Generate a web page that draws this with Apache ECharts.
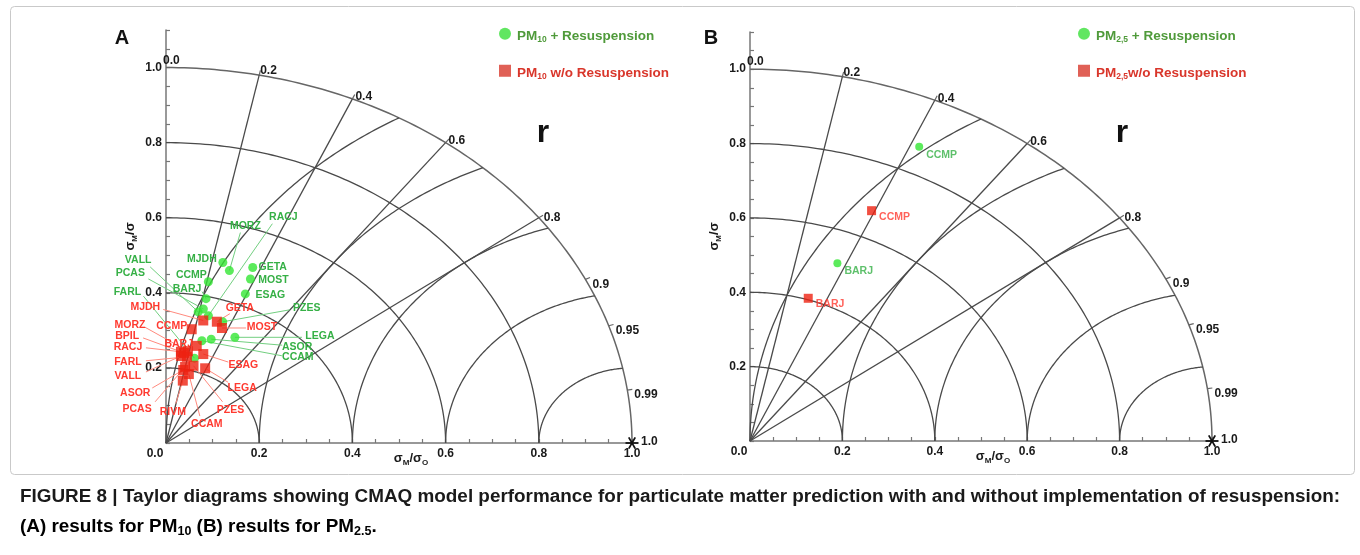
<!DOCTYPE html>
<html><head><meta charset="utf-8">
<script src="https://cdn.jsdelivr.net/npm/echarts@6/dist/echarts.min.js"></script>
<style>html,body{margin:0;padding:0;background:#fff;}#c{width:1360px;height:555px;}</style>
</head><body><div id="c"></div>
<script>
const FONT = '"Liberation Sans", Arial, Helvetica, sans-serif';

// ---------------- data ----------------
const stdArcs = [0.2, 0.4, 0.6, 0.8, 1.0];          // normalized std deviation arcs
const rmsArcs = [0.2, 0.4, 0.6, 0.8, 1.0];          // centred RMS difference arcs (around REF)
const corrLines = [0.2, 0.4, 0.6, 0.8];             // radial correlation lines
const corrTicks = [0.0, 0.2, 0.4, 0.6, 0.8, 0.9, 0.95, 0.99, 1.0];
const corrTickLabels = ['0.0', '0.2', '0.4', '0.6', '0.8', '0.9', '0.95', '0.99', '1.0'];

// (A) PM10 + Resuspension
const pm10WithStations = ['RACJ','MORZ','MJDH','GETA','MOST','ESAG','VALL','PCAS','CCMP','BARJ','FARL','PZES','LEGA','ASOR','CCAM'];
const pm10WithStd  = [0.351,0.479,0.496,0.503,0.473,0.432,0.356,0.366,0.439,0.394,0.234,0.345,0.318,0.293,0.283];
const pm10WithCorr = [0.259,0.284,0.246,0.370,0.383,0.394,0.194,0.219,0.207,0.218,0.261,0.353,0.465,0.331,0.272];
// (A) PM10 w/o Resuspension
const pm10WithoutStations = ['MJDH','MORZ','BPIL','RACJ','FARL','VALL','ASOR','PCAS','RIVM','CCAM','PZES','LEGA','ESAG','MOST','GETA','CCMP','BARJ'];
const pm10WithoutStd  = [0.336,0.249,0.243,0.245,0.234,0.234,0.198,0.207,0.170,0.190,0.214,0.216,0.250,0.329,0.341,0.308,0.267];
const pm10WithoutCorr = [0.238,0.189,0.160,0.131,0.192,0.137,0.187,0.198,0.212,0.258,0.276,0.389,0.320,0.365,0.320,0.179,0.247];
// (B) PM2.5
const pm25WithStations = ['CCMP','BARJ'];
const pm25WithStd  = [0.872, 0.514];
const pm25WithCorr = [0.420, 0.368];
const pm25WithoutStations = ['CCMP','BARJ'];
const pm25WithoutStd  = [0.673, 0.404];
const pm25WithoutCorr = [0.391, 0.312];

// ---------------- layout (label text / leader-line start, px offsets from marker) ----------------
const pm10WithLabelOffsets = [
  [75,-99,64,-92],[16,-44,11,-38],[-21,-3],[20,0],[23,1],[25,1],[-60,-52,-48,-45],[-73,-36,-55,-30],
  [-17,-7],[-19,-10,-4,-7],[-67,-66,-51,-62],[84,-14,67,-12],[85,-1,67,0],[86,8,71,6],[96,16,80,15]
];
const pm10WithoutLabelOffsets = [
  [-58,-13,-40,-11],[-58,-26,-43,-24],[-57,-17,-41,-15],[-53,-5,-35,-4],[-59,5,-41,4],[-53,20,-35,16],
  [-48,23,-31,18],[-48,42,-30,35],[-10,31,-7,23],[18,50,11,42],[37,44,29,36],[37,20,23,14],[40,11,25,8],
  [40,-1,24,0],[23,-14,13,-8],[-20,-3],[-18,-2]
];

const GREEN = '#33e633', RED = '#ee2211';
const GREEN_TXT = '#36b046', RED_TXT = '#ff3a30';
const GREEN_LINE = '#72cf80', RED_LINE = '#ff8a7e';
const GRID_COL = '#4a4a4a';

function toXY(s, r) { return [s * r, s * Math.sqrt(1 - r * r)]; }

function subRich(main, sub, drop, color) {
  const L = main + 2;
  return {
    n: { fontSize: main, fontWeight: 'bold', fontFamily: FONT, color: color, lineHeight: L, padding: [drop, 0, drop, 0], verticalAlign: 'top' },
    s: { fontSize: sub, fontWeight: 'bold', fontFamily: FONT, color: color, lineHeight: sub, padding: [2 * drop + (L - sub) / 2, 0, 0, 0], verticalAlign: 'top' }
  };
}

function gridSeries(ax) {
  return {
    type: 'custom', xAxisIndex: ax, yAxisIndex: ax, coordinateSystem: 'cartesian2d',
    clip: false, silent: true, z: 1, data: [[0, 0]],
    renderItem(params, api) {
      const ch = [];
      const st = { stroke: GRID_COL, lineWidth: 1.3, fill: null };
      const P = a => a.map(p => api.coord(p));
      stdArcs.forEach(s => {
        const a = [];
        for (let i = 0; i <= 120; i++) { const t = i / 120 * Math.PI / 2; a.push([s * Math.cos(t), s * Math.sin(t)]); }
        ch.push({ type: 'polyline', shape: { points: P(a) }, style: s === 1 ? { stroke: '#666', lineWidth: 1.5, fill: null } : st });
      });
      rmsArcs.forEach(d => {
        const xe = 1 - d * d / 2, ye = Math.sqrt(1 - xe * xe);
        const pe = Math.atan2(ye, xe - 1);
        const a = [];
        for (let i = 0; i <= 120; i++) { const f = Math.PI + (pe - Math.PI) * i / 120; a.push([1 + d * Math.cos(f), d * Math.sin(f)]); }
        ch.push({ type: 'polyline', shape: { points: P(a) }, style: st });
      });
      corrLines.forEach(r => {
        ch.push({ type: 'polyline', shape: { points: P([[0, 0], [r, Math.sqrt(1 - r * r)]]) }, style: st });
      });
      return { type: 'group', children: ch };
    }
  };
}

function corrLabelSeries(ax) {
  return {
    type: 'custom', xAxisIndex: ax, yAxisIndex: ax, coordinateSystem: 'cartesian2d',
    clip: false, silent: true, z: 4,
    data: corrTicks.map((r, i) => [r, Math.sqrt(Math.max(0, 1 - r * r)), i]),
    renderItem(params, api) {
      const i = api.value(2), r = corrTicks[i];
      const p = api.coord([api.value(0), api.value(1)]);
      const o = api.coord([0, 0]);
      let dx = p[0] - o[0], dy = p[1] - o[1]; const len = Math.hypot(dx, dy); dx /= len; dy /= len;
      const ch = [];
      const font = { fontSize: 12, fontWeight: 'bold', fontFamily: FONT, fill: '#1a1a1a' };
      if (r > 0 && r < 1) {
        ch.push({ type: 'line', shape: { x1: p[0], y1: p[1], x2: p[0] + dx * 5, y2: p[1] + dy * 5 }, style: { stroke: '#666', lineWidth: 1.2 } });
      }
      let tx, ty, va;
      if (r === 0) { tx = p[0] - 3; ty = p[1] - 1; va = 'bottom'; }
      else if (r < 0.3) { tx = p[0] + 1; ty = p[1] + 2; va = 'bottom'; }
      else if (r < 0.7) { tx = p[0] + 3; ty = p[1] + 4; va = 'bottom'; }
      else if (r < 0.85) { tx = p[0] + 5; ty = p[1] + 0; va = 'middle'; }
      else if (r < 1) { tx = p[0] + 7; ty = p[1] + 5; va = 'middle'; }
      else {
        tx = p[0] + 9; ty = p[1] - 1; va = 'middle';
        [0, 60, 120].forEach(a => {
          const c = Math.cos(a * Math.PI / 180) * 6.5, s = Math.sin(a * Math.PI / 180) * 6.5;
          ch.push({ type: 'line', shape: { x1: p[0] - c, y1: p[1] - s, x2: p[0] + c, y2: p[1] + s }, style: { stroke: '#111', lineWidth: 1.8 } });
        });
      }
      ch.push({ type: 'text', style: Object.assign({ text: corrTickLabels[i], x: tx, y: ty, align: 'left', verticalAlign: va }, font) });
      return { type: 'group', children: ch };
    }
  };
}

function stationLabelSeries(ax, stations, std, corr, offsets, txtColor, lineColor) {
  return {
    type: 'custom', xAxisIndex: ax, yAxisIndex: ax, coordinateSystem: 'cartesian2d',
    clip: false, silent: true, z: 2,
    data: stations.map((s, i) => { const xy = toXY(std[i], corr[i]); return [xy[0], xy[1], i]; }),
    renderItem(params, api) {
      const i = api.value(2);
      const p = api.coord([api.value(0), api.value(1)]);
      const o = offsets[i];
      const ch = [];
      if (o.length > 2) {
        ch.push({ type: 'line', shape: { x1: p[0] + o[2], y1: p[1] + o[3], x2: p[0], y2: p[1] }, style: { stroke: lineColor, lineWidth: 1 } });
      }
      ch.push({ type: 'text', style: { text: stations[i], x: p[0] + o[0], y: p[1] + o[1], align: 'center', verticalAlign: 'middle', fill: txtColor, fontSize: 10.5, fontWeight: 'bold', fontFamily: FONT } });
      return { type: 'group', children: ch };
    }
  };
}

function isMajor(v) { const k = Math.round(v / 0.2); return Math.abs(k * 0.2 - v) < 1e-6; }

function xAxisCfg(gi) {
  return {
    gridIndex: gi, type: 'value', min: 0, max: 1, interval: 0.05,
    axisLine: { show: true, lineStyle: { color: '#777', width: 1.5 } },
    axisTick: { show: true, inside: true, length: 4, interval: 0, lineStyle: { color: '#777', width: 1.2 } },
    splitLine: { show: false },
    axisLabel: {
      interval: 0, margin: 5, color: '#1a1a1a', fontSize: 12, fontWeight: 'bold', fontFamily: FONT,
      formatter: v => { if (!isMajor(v)) return ''; if (v === 0) return '{z|0.0}'; return v.toFixed(1); },
      rich: { z: { fontSize: 12, fontWeight: 'bold', fontFamily: FONT, color: '#1a1a1a', padding: [0, 22, 0, 0] } }
    },
    name: '{n|σ}{s|M}{n|/σ}{s|O}', nameLocation: 'middle', nameGap: 6, nameMoveOverlap: false,
    nameTextStyle: { padding: [0, 0, 0, 24], rich: subRich(13, 8, 3, '#1a1a1a') }
  };
}
function yAxisCfg(gi) {
  return {
    gridIndex: gi, type: 'value', min: 0, max: 1.1, interval: 0.05,
    axisLine: { show: true, onZero: false, lineStyle: { color: '#777', width: 1.5 } },
    axisTick: { show: true, inside: true, length: 4, interval: 0, lineStyle: { color: '#777', width: 1.2 } },
    splitLine: { show: false },
    axisLabel: {
      interval: 0, margin: 4, color: '#1a1a1a', fontSize: 12, fontWeight: 'bold', fontFamily: FONT,
      formatter: v => (v === 0 || !isMajor(v)) ? '' : v.toFixed(1)
    },
    name: '{n|σ}{s|M}{n|/σ}', nameLocation: 'middle', nameGap: 30, nameMoveOverlap: false,
    nameTextStyle: { rich: subRich(13, 8, 3, '#1a1a1a') }
  };
}

const legendRich = Object.assign({},
  (() => { const r = subRich(13.5, 8.5, 3, '#4f9a3a'); return { gn: r.n, gs: r.s }; })(),
  (() => { const r = subRich(13.5, 8.5, 3, '#d9362b'); return { rn: r.n, rs: r.s }; })());
const legendFmt = {
  'PM10 + Resuspension': '{gn|PM}{gs|10}{gn| + Resuspension}',
  'PM10 w/o Resuspension': '{rn|PM}{rs|10}{rn| w/o Resuspension}',
  'PM2,5 + Resuspension': '{gn|PM}{gs|2,5}{gn| + Resuspension}',
  'PM2,5w/o Resuspension': '{rn|PM}{rs|2,5}{rn|w/o Resuspension}'
};
function legendCfg(left, names) {
  return {
    left: left, top: 21, orient: 'vertical', itemGap: 17, itemWidth: 14, itemHeight: 12, selectedMode: false,
    data: [
      { name: names[0], icon: 'circle', itemStyle: { color: '#3ae03a' } },
      { name: names[1], icon: 'path://M0,0H10V10H0Z', itemStyle: { color: '#d8382c' } }
    ],
    formatter: n => legendFmt[n],
    textStyle: { rich: legendRich }
  };
}

const chart = echarts.init(document.getElementById('c'), null, { renderer: 'canvas' });
const capRich = subRich(18.9, 12.5, 3, '#1a1a1a');

chart.setOption({
  animation: false,
  backgroundColor: '#ffffff',
  grid: [
    { left: 166, top: 30, width: 466, height: 413 },
    { left: 750, top: 32, width: 462, height: 409 }
  ],
  xAxis: [xAxisCfg(0), xAxisCfg(1)],
  yAxis: [yAxisCfg(0), yAxisCfg(1)],
  legend: [
    legendCfg(494, ['PM10 + Resuspension', 'PM10 w/o Resuspension']),
    legendCfg(1073, ['PM2,5 + Resuspension', 'PM2,5w/o Resuspension'])
  ],
  graphic: [
    { type: 'rect', left: 8, top: 4, shape: { width: 1344, height: 468, r: 4 }, style: { fill: 'none', stroke: '#c9c9c9', lineWidth: 1 }, silent: true, z: -10 },
    { type: 'text', x: 122, y: 38, style: { text: 'A', fontSize: 20, fontWeight: 'bold', fontFamily: FONT, fill: '#111', align: 'center', verticalAlign: 'middle' } },
    { type: 'text', x: 711, y: 38, style: { text: 'B', fontSize: 20, fontWeight: 'bold', fontFamily: FONT, fill: '#111', align: 'center', verticalAlign: 'middle' } },
    { type: 'text', x: 543, y: 133, style: { text: 'r', fontSize: 32, fontWeight: 'bold', fontFamily: FONT, fill: '#111', align: 'center', verticalAlign: 'middle' } },
    { type: 'text', x: 1122, y: 133, style: { text: 'r', fontSize: 32, fontWeight: 'bold', fontFamily: FONT, fill: '#111', align: 'center', verticalAlign: 'middle' } },
    { type: 'text', x: 20, y: 497, style: { text: 'FIGURE 8 | Taylor diagrams showing CMAQ model performance for particulate matter prediction with and without implementation of resuspension:', fontSize: 18.9, fontWeight: 'bold', fontFamily: FONT, fill: '#1a1a1a', align: 'left', verticalAlign: 'middle' } },
    { type: 'text', x: 20, y: 525, style: { text: '{n|(A) results for PM}{s|10}{n| (B) results for PM}{s|2.5}{n|.}', rich: capRich, align: 'left', verticalAlign: 'middle' } }
  ],
  series: [
    gridSeries(0), gridSeries(1), corrLabelSeries(0), corrLabelSeries(1),
    stationLabelSeries(0, pm10WithStations, pm10WithStd, pm10WithCorr, pm10WithLabelOffsets, GREEN_TXT, GREEN_LINE),
    stationLabelSeries(0, pm10WithoutStations, pm10WithoutStd, pm10WithoutCorr, pm10WithoutLabelOffsets, RED_TXT, RED_LINE),
    { type: 'scatter', name: 'PM10 + Resuspension', xAxisIndex: 0, yAxisIndex: 0, symbol: 'circle', symbolSize: 9, z: 3,
      itemStyle: { color: GREEN }, data: pm10WithStd.map((s, i) => toXY(s, pm10WithCorr[i])) },
    { type: 'scatter', name: 'PM10 w/o Resuspension', xAxisIndex: 0, yAxisIndex: 0, symbol: 'rect', symbolSize: 10, z: 3,
      itemStyle: { color: RED }, data: pm10WithoutStd.map((s, i) => toXY(s, pm10WithoutCorr[i])) },
    { type: 'scatter', name: 'PM2,5 + Resuspension', xAxisIndex: 1, yAxisIndex: 1, symbol: 'circle', symbolSize: 8, z: 3,
      itemStyle: { color: GREEN }, data: pm25WithStd.map((s, i) => toXY(s, pm25WithCorr[i])),
      label: { show: true, position: 'right', distance: 3, offset: [0, 8], formatter: p => pm25WithStations[p.dataIndex], color: GREEN_TXT, fontSize: 10.5, fontWeight: 'bold', fontFamily: FONT } },
    { type: 'scatter', name: 'PM2,5w/o Resuspension', xAxisIndex: 1, yAxisIndex: 1, symbol: 'rect', symbolSize: 9, z: 3,
      itemStyle: { color: RED }, data: pm25WithoutStd.map((s, i) => toXY(s, pm25WithoutCorr[i])),
      label: { show: true, position: 'right', distance: 3, offset: [0, 6], formatter: p => pm25WithoutStations[p.dataIndex], color: RED_TXT, fontSize: 10.5, fontWeight: 'bold', fontFamily: FONT } }
  ]
});
</script></body></html>
